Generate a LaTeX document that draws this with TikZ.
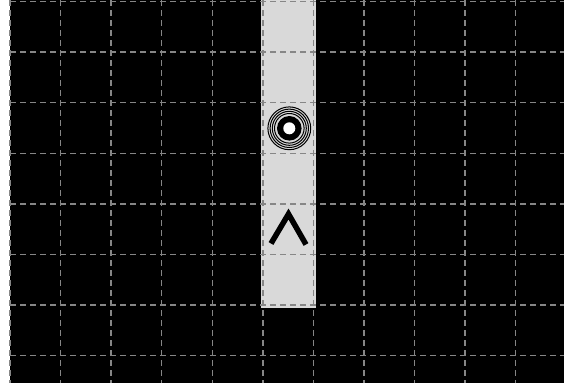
\documentclass[tikz,border=0pt]{standalone}
\begin{document}
\begin{tikzpicture}[x=1pt,y=-1pt,
  gridline/.style={draw=gray!95,line width=1.5pt,dash pattern=on 6pt off 4pt},
  ring/.style={draw=black,line width=1pt}]
\useasboundingbox (0,0) rectangle (564,383);
\fill[white] (0,0) rectangle (564,383);
\fill[black] (10,0) rectangle (564,383);
% light strip
\fill[black!15] (261,0) rectangle (316,308);
% grid
\foreach \k in {0,...,10} {
  \draw[gridline] ({10+50.57*\k},0) -- ({10+50.57*\k},383);
}
\foreach \k in {0,...,7} {
  \draw[gridline] (10,{1.5+50.6*\k}) -- (564,{1.5+50.6*\k});
}
% target symbol
\coordinate (target) at (289.3,128.3);
\fill[black] (target) circle[radius=12.3];
\fill[white] (target) circle[radius=6];
\foreach \r in {14.8,17,19.2,21.4} {
  \draw[ring] (target) circle[radius=\r];
}
% caret
\coordinate (caretL) at (271,243.5);
\coordinate (caretT) at (288.5,214);
\coordinate (caretR) at (306,244.5);
\draw[black,line width=5.5pt,line join=miter] (caretL) -- (caretT) -- (caretR);
\end{tikzpicture}
\end{document}
